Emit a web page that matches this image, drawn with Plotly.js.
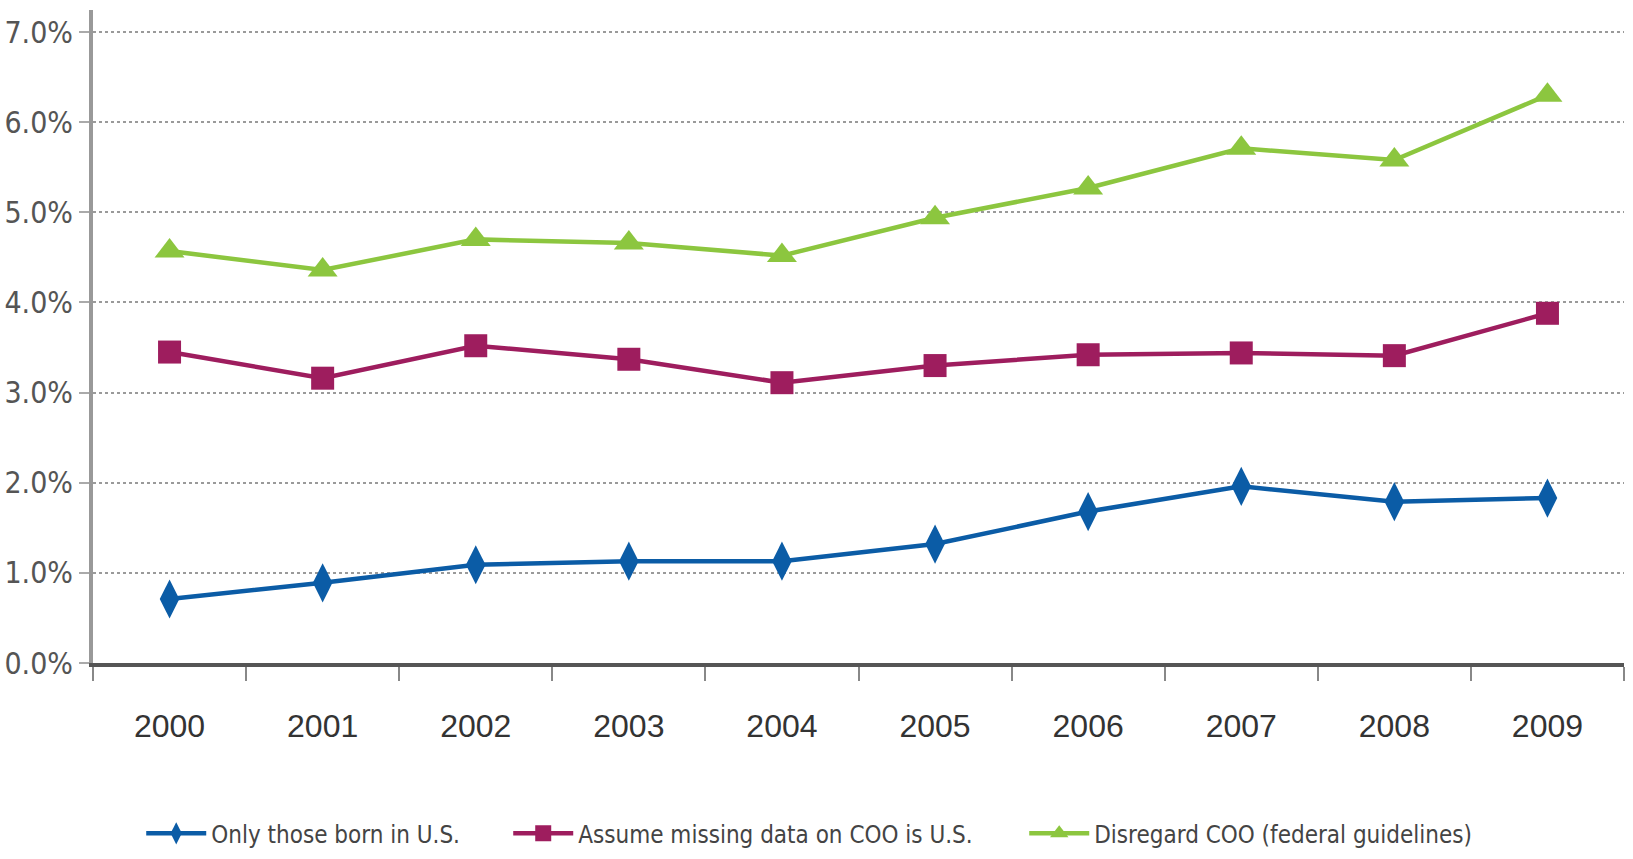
<!DOCTYPE html>
<html>
<head>
<meta charset="utf-8">
<script src="https://cdn.plot.ly/plotly-3.0.1.min.js"></script>
<style>
  html, body { margin: 0; padding: 0; background: #ffffff; }
  #chart { width: 1633px; height: 859px; }
</style>
</head>
<body>
<div id="chart"></div>
<script>
// ---- Data (percent) ----
const years = ['2000', '2001', '2002', '2003', '2004', '2005', '2006', '2007', '2008', '2009'];
const onlyBornUS = [0.71, 0.89, 1.09, 1.13, 1.13, 1.32, 1.68, 1.96, 1.79, 1.83];
const missingIsUS = [3.45, 3.16, 3.52, 3.37, 3.11, 3.30, 3.42, 3.44, 3.41, 3.88];
const disregardCOO = [4.57, 4.36, 4.70, 4.66, 4.52, 4.94, 5.27, 5.71, 5.58, 6.30];
const seriesNames = ['Only those born in U.S.', 'Assume missing data on COO is U.S.', 'Disregard COO (federal guidelines)'];
const yTickVals = [0, 1, 2, 3, 4, 5, 6, 7];
const yTickText = ['0.0%', '1.0%', '2.0%', '3.0%', '4.0%', '5.0%', '6.0%', '7.0%'];

const narrow = '"Liberation Sans Narrow", "DejaVu Sans Condensed", "Arial Narrow", sans-serif';

const traces = [
  {
    x: years, y: onlyBornUS, name: seriesNames[0], type: 'scatter', mode: 'lines+markers',
    line: { color: '#0B5CA6', width: 4.5 },
    marker: { symbol: 'diamond-tall', size: 28, color: '#0B5CA6' },
    legendwidth: 292
  },
  {
    x: years, y: missingIsUS, name: seriesNames[1], type: 'scatter', mode: 'lines+markers',
    line: { color: '#9E1D5E', width: 4.5 },
    marker: { symbol: 'square', size: 23, color: '#9E1D5E' },
    legendwidth: 441
  },
  {
    x: years, y: disregardCOO, name: seriesNames[2], type: 'scatter', mode: 'lines+markers',
    line: { color: '#8CC63F', width: 4.5 },
    marker: { symbol: 'triangle-up', size: 26, color: '#8CC63F' },
    legendwidth: 400
  }
];

const layout = {
  width: 1633, height: 859,
  paper_bgcolor: '#ffffff', plot_bgcolor: '#ffffff',
  margin: { l: 93, r: 9, t: 10, b: 196, autoexpand: false },
  showlegend: true,
  xaxis: {
    type: 'category',
    range: [-0.5, 9.5],
    automargin: false,
    showline: true, linecolor: '#555555', linewidth: 4,
    showgrid: false, zeroline: false,
    ticks: 'outside', tickson: 'boundaries', ticklen: 14, tickwidth: 2, tickcolor: '#888888',
    ticklabelstandoff: 32,
    tickfont: { family: '"Liberation Sans", Arial, sans-serif', size: 32, color: '#333333' }
  },
  yaxis: {
    range: [0, 7.245],
    automargin: false,
    tickvals: yTickVals, ticktext: yTickText,
    showline: true, linecolor: '#999999', linewidth: 4,
    showgrid: true, gridcolor: '#9a9a9a', gridwidth: 2, griddash: 'dot',
    zeroline: false,
    ticks: 'outside', ticklen: 10, tickwidth: 2, tickcolor: '#aaaaaa',
    tickfont: { family: narrow, size: 30, color: '#555555' }
  },
  legend: {
    orientation: 'h',
    x: 0.0315, xanchor: 'left',
    y: -0.2615, yanchor: 'middle',
    itemwidth: 60,
    font: { family: narrow, size: 24, color: '#444444' },
    bgcolor: 'rgba(0,0,0,0)'
  }
};

Plotly.newPlot('chart', traces, layout, { displayModeBar: false, staticPlot: true });
</script>
</body>
</html>
